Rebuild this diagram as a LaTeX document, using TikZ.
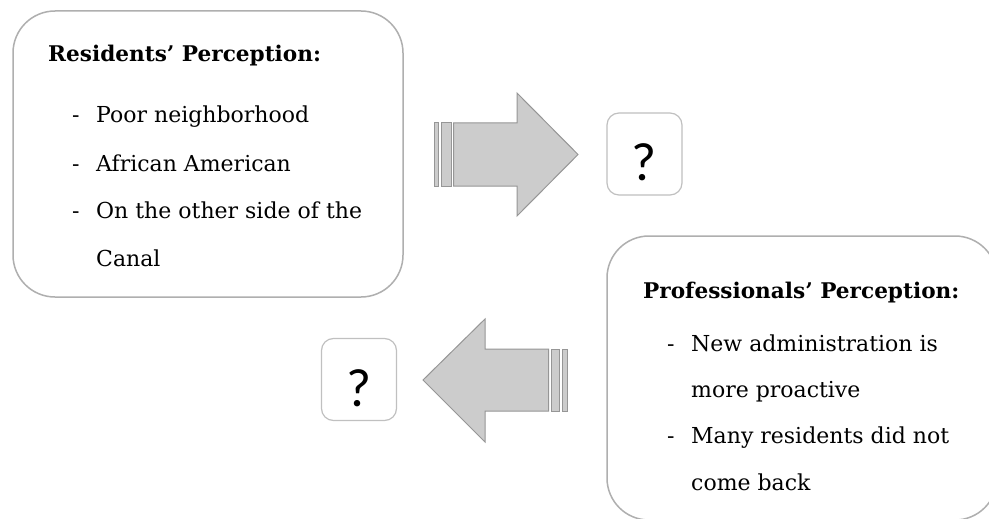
\documentclass[tikz,border=0pt]{standalone}
\usepackage{fontspec}
\setmainfont{DejaVu Serif}
\newfontfamily\qfont{Carlito}

\definecolor{panelline}{RGB}{175,175,175}
\definecolor{qline}{RGB}{192,192,192}
\definecolor{arrowfill}{RGB}{204,204,204}
\definecolor{arrowline}{RGB}{150,150,150}

\tikzset{
  panel/.style={draw=panelline, line width=1.5pt, rounded corners=42pt, fill=white,
    minimum width=390pt, minimum height=286pt, inner sep=0pt},
  qbox/.style={draw=qline, line width=1.2pt, rounded corners=12pt, fill=white,
    minimum width=75pt, minimum height=82pt, inner sep=0pt,
    text height=53pt, text depth=0pt, font=\qfont\fontsize{54}{54}\selectfont},
  bigarrow/.style={fill=arrowfill, draw=arrowline, line width=1pt, line join=miter},
  heading/.style={anchor=base west, inner sep=0pt, font=\bfseries\fontsize{21.6}{21.6}\selectfont},
  item/.style={anchor=base west, inner sep=0pt, font=\fontsize{22}{22}\selectfont},
}

\begin{document}
\begin{tikzpicture}[x=1pt, y=-1pt]
  \useasboundingbox (0,0) rectangle (989,519);
  \fill[white] (0,0) rectangle (989,519);
  \clip (0,0) rectangle (989,519);

  % residents' panel
  \node[panel] (res) at (208,154) {};
  \node[heading] (resT) at (48,62) {Residents’ Perception:};
  \node[item] (r1d) at (72,123) {-};
  \node[item] (r1) at (96,123) {Poor neighborhood};
  \node[item] (r2d) at (72,171) {-};
  \node[item] (r2) at (96,171) {African American};
  \node[item] (r3d) at (72,218) {-};
  \node[item] (r3) at (96,218) {On the other side of the};
  \node[item] (r4) at (96,266) {Canal};

  % professionals' panel (runs past the lower right edge)
  \node[panel, minimum height=284pt] (pro) at (802,378) {};
  \node[heading] (proT) at (643,298) {Professionals’ Perception:};
  \node[item] (p1d) at (667,351) {-};
  \node[item] (p1) at (691,351) {New administration is};
  \node[item] (p2) at (691,397) {more proactive};
  \node[item] (p3d) at (667,443.5) {-};
  \node[item] (p3) at (691,443.5) {Many residents did not};
  \node[item] (p4) at (691,490) {come back};

  % question boxes
  \node[qbox] (q1) at (644.5,154) {?};
  \node[qbox] (q2) at (359,379.5) {?};

  % striped block arrow pointing right
  \draw[bigarrow] (434,123) rectangle (438,186);
  \draw[bigarrow] (441.5,123) rectangle (451,186);
  \draw[bigarrow] (453.5,123) -- (517,123) -- (517,93) -- (578,154.5)
    -- (517,216) -- (517,186) -- (453.5,186) -- cycle;

  % striped block arrow pointing left
  \draw[bigarrow] (567,349) rectangle (562.5,411);
  \draw[bigarrow] (559,349) rectangle (551,411);
  \draw[bigarrow] (548.5,349) -- (485,349) -- (485,319) -- (423,380)
    -- (485,442) -- (485,411) -- (548.5,411) -- cycle;
\end{tikzpicture}
\end{document}
